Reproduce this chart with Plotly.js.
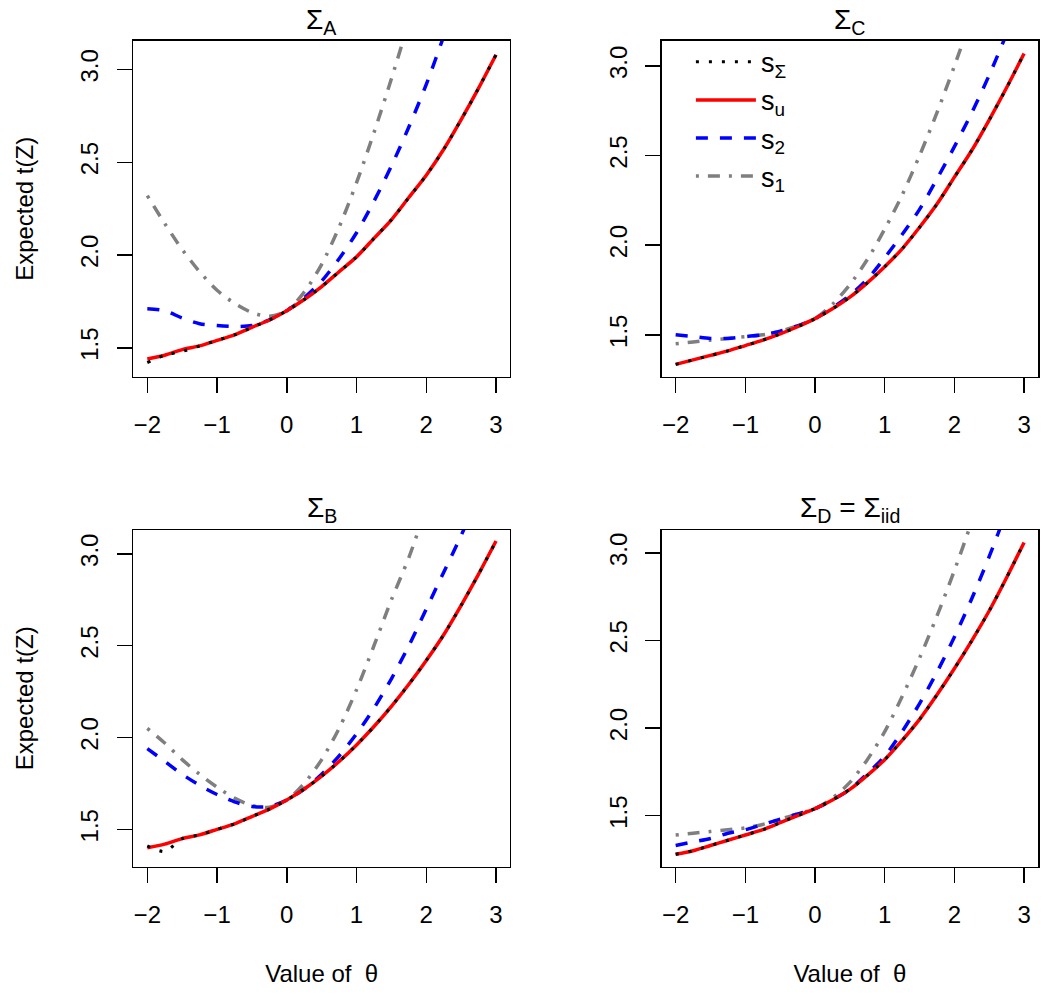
<!DOCTYPE html>
<html>
<head>
<meta charset="utf-8">
<script src="https://cdn.plot.ly/plotly-3.0.1.min.js"></script>
<style>html,body{margin:0;padding:0;background:#fff}#chart{width:1050px;height:994px}</style>
</head>
<body>
<div id="chart"></div>
<script>
const theta = [-2,-1.75,-1.5,-1.25,-1,-0.75,-0.5,-0.25,0,0.25,0.5,0.75,1,1.25,1.5,1.75,2,2.25,2.5,2.75,3];
const panelTitles = ["Σ<sub>A</sub>","Σ<sub>C</sub>","Σ<sub>B</sub>","Σ<sub>D</sub> = Σ<sub>iid</sub>"];
const seriesNames = ["s<sub>Σ</sub>","s<sub>u</sub>","s<sub>2</sub>","s<sub>1</sub>"];
const xTicks = [-2,-1,0,1,2,3];
const yTicks = [1.5,2.0,2.5,3.0];

// Panel A (top-left)
const A_sSigma = [1.42,1.46,1.48,1.51,1.54,1.57,1.61,1.65,1.70,1.76,1.83,1.91,1.99,2.09,2.19,2.31,2.43,2.57,2.73,2.90,3.08];
const A_su     = [1.44,1.46,1.49,1.51,1.54,1.57,1.61,1.65,1.70,1.76,1.83,1.91,1.99,2.09,2.19,2.31,2.43,2.57,2.73,2.90,3.08];
const A_s2     = [1.71,1.70,1.66,1.63,1.62,1.615,1.62,1.65,1.70,1.77,1.86,1.98,2.12,2.29,2.48,2.69,2.92,3.18,3.46,3.76,4.10];
const A_s1     = [2.32,2.17,2.03,1.91,1.81,1.74,1.69,1.67,1.70,1.80,1.95,2.15,2.39,2.66,2.95,3.26,3.60,3.95,4.3,4.7,5.1];
// Panel C (top-right)
const C_sSigma = [1.335,1.36,1.385,1.41,1.44,1.47,1.505,1.545,1.59,1.645,1.71,1.79,1.88,1.98,2.10,2.23,2.38,2.53,2.70,2.88,3.07];
const C_su     = [1.335,1.36,1.385,1.41,1.44,1.47,1.505,1.545,1.59,1.645,1.71,1.79,1.88,1.98,2.10,2.23,2.38,2.53,2.70,2.88,3.07];
const C_s2     = [1.50,1.49,1.48,1.48,1.49,1.50,1.52,1.55,1.59,1.65,1.72,1.81,1.93,2.06,2.20,2.37,2.55,2.74,2.95,3.18,3.42];
const C_s1     = [1.45,1.46,1.47,1.48,1.49,1.50,1.52,1.55,1.59,1.67,1.78,1.92,2.09,2.28,2.50,2.74,3.00,3.28,3.6,3.9,4.2];
// Panel B (bottom-left)
const B_sSigma = [1.41,1.38,1.45,1.47,1.50,1.53,1.57,1.61,1.66,1.72,1.79,1.87,1.96,2.06,2.17,2.29,2.42,2.56,2.72,2.89,3.07];
const B_su     = [1.40,1.42,1.45,1.47,1.50,1.53,1.57,1.61,1.66,1.72,1.79,1.87,1.96,2.06,2.17,2.29,2.42,2.56,2.72,2.89,3.07];
const B_s2     = [1.94,1.87,1.80,1.74,1.69,1.65,1.625,1.625,1.66,1.72,1.80,1.90,2.02,2.16,2.32,2.50,2.70,2.90,3.10,3.32,3.55];
const B_s1     = [2.05,1.97,1.88,1.80,1.73,1.67,1.63,1.62,1.66,1.75,1.88,2.05,2.26,2.50,2.75,2.98,3.25,3.5,3.8,4.1,4.4];
// Panel D (bottom-right)
const D_sSigma = [1.28,1.30,1.33,1.36,1.39,1.42,1.46,1.50,1.54,1.59,1.65,1.73,1.82,1.93,2.05,2.19,2.34,2.50,2.67,2.86,3.06];
const D_su     = [1.28,1.30,1.33,1.36,1.39,1.42,1.46,1.50,1.54,1.59,1.65,1.73,1.82,1.93,2.05,2.19,2.34,2.50,2.67,2.86,3.06];
const D_s2     = [1.33,1.35,1.37,1.40,1.42,1.45,1.48,1.51,1.54,1.59,1.65,1.74,1.84,1.98,2.14,2.32,2.52,2.74,2.98,3.24,3.50];
const D_s1     = [1.39,1.40,1.41,1.42,1.43,1.45,1.48,1.51,1.54,1.60,1.69,1.82,1.98,2.18,2.40,2.64,2.90,3.18,3.48,3.8,4.1];

const panels = [
  {s:[A_sSigma,A_su,A_s2,A_s1], xa:'x', ya:'y'},
  {s:[C_sSigma,C_su,C_s2,C_s1], xa:'x2', ya:'y2'},
  {s:[B_sSigma,B_su,B_s2,B_s1], xa:'x3', ya:'y3'},
  {s:[D_sSigma,D_su,D_s2,D_s1], xa:'x4', ya:'y4'}
];
const styles = [
  {color:'#000000', width:3, dash:'3px,10px'},
  {color:'#FF0000', width:3.5, dash:'solid'},
  {color:'#0000FF', width:3.5, dash:'12px,12px'},
  {color:'#7F7F7F', width:3.5, dash:'3px,9px,12px,9px'}
];
const drawOrder = [3,2,1,0];
const traces = [];
panels.forEach((p, pi) => {
  drawOrder.forEach(si => {
    traces.push({
      x: theta, y: p.s[si], xaxis: p.xa, yaxis: p.ya,
      type: 'scatter', mode: 'lines',
      name: seriesNames[si],
      line: {color: styles[si].color, width: styles[si].width, dash: styles[si].dash, shape: 'spline', smoothing: 0.8},
      showlegend: pi === 1,
      legendrank: si + 1,
      legendgroup: 'g' + si,
      hoverinfo: 'skip'
    });
  });
});

const font = {family: 'Liberation Sans, Arial, sans-serif', size: 24, color: '#000'};
function xax(dom, anchor, showTitle) {
  return {domain: dom, anchor: anchor, range: [-2.2, 3.2], tickvals: xTicks, ticktext: xTicks.map(v => v < 0 ? '−' + Math.abs(v) : String(v)),
    showline: true, mirror: true, linecolor: '#000', linewidth: 1.5, ticks: 'outside', ticklen: 15, tickwidth: 1.5, tickcolor: '#000',
    showgrid: false, zeroline: false, tickfont: font, ticklabelstandoff: 11,
    title: showTitle ? {text: 'Value of  θ', font: font, standoff: 38} : {text: ''}};
}
function yax(dom, anchor, range, showTitle) {
  return {domain: dom, anchor: anchor, range: range, tickvals: yTicks, ticktext: yTicks.map(v => v.toFixed(1)),
    showline: true, mirror: true, linecolor: '#000', linewidth: 1.5, ticks: 'outside', ticklen: 15, tickwidth: 1.5, tickcolor: '#000',
    showgrid: false, zeroline: false, tickfont: font, tickangle: -90, ticklabelstandoff: 9,
    title: showTitle ? {text: 'Expected t(Z)', font: font, standoff: 36} : {text: ''}};
}
const xL = [0.1270, 0.4857], xR = [0.6302, 0.9886];
const yT = [0.6210, 0.9588], yB = [0.1281, 0.4668];
const titleFont = {family: 'Liberation Sans, Arial, sans-serif', size: 28, color: '#000'};
const layout = {
  width: 1050, height: 994, margin: {l: 0, r: 0, t: 0, b: 0},
  paper_bgcolor: '#fff', plot_bgcolor: '#fff', font: font,
  xaxis: xax(xL, 'y', false), yaxis: yax(yT, 'x', [1.344, 3.154], true),
  xaxis2: xax(xR, 'y2', false), yaxis2: yax(yT, 'x2', [1.266, 3.14], false),
  xaxis3: xax(xL, 'y3', true), yaxis3: yax(yB, 'x3', [1.297, 3.13], true),
  xaxis4: xax(xR, 'y4', true), yaxis4: yax(yB, 'x4', [1.209, 3.131], false),
  showlegend: true,
  legend: {x: 0.658, y: 0.962, xanchor: 'left', yanchor: 'top', bgcolor: 'rgba(0,0,0,0)', borderwidth: 0,
    font: {family: 'Liberation Sans, Arial, sans-serif', size: 27, color: '#000'}, traceorder: 'grouped', tracegroupgap: 0,
    itemwidth: 60},
  annotations: panelTitles.map((t, i) => ({
    text: t, showarrow: false, xref: 'paper', yref: 'paper',
    x: (i % 2 === 0) ? (xL[0] + xL[1]) / 2 : (xR[0] + xR[1]) / 2,
    y: i < 2 ? 0.978 : 0.487, xanchor: 'center', yanchor: 'middle', font: titleFont
  }))
};
Plotly.newPlot('chart', traces, layout, {displayModeBar: false, staticPlot: true});
</script>
</body>
</html>
